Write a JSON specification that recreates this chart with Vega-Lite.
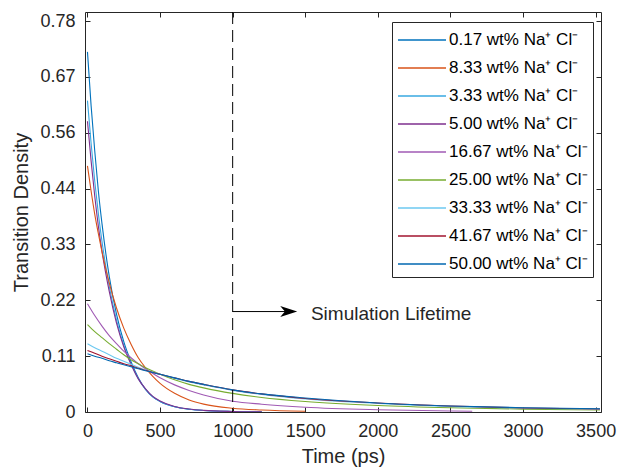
{
  "$schema": "https://vega.github.io/schema/vega-lite/v6.json",
  "width": 516,
  "height": 400,
  "autosize": {"type": "none"},
  "padding": {"left": 85, "top": 12, "right": 22, "bottom": 63},
  "background": "white",
  "config": {
    "view": {"stroke": null},
    "font": "Liberation Sans",
    "axis": {
      "grid": false,
      "domainColor": "#262626",
      "tickColor": "#262626",
      "labelColor": "#262626",
      "titleColor": "#262626",
      "labelFont": "Liberation Sans",
      "titleFont": "Liberation Sans",
      "labelFontSize": 18,
      "titleFontSize": 20,
      "titleFontWeight": "normal",
      "tickSize": -5,
      "labelPadding": 15,
      "labelFlush": false,
      "labelOverlap": false,
      "domainWidth": 1,
      "tickWidth": 1
    },
    "legend": {
      "orient": "none",
      "legendX": 307,
      "legendY": 10,
      "padding": 5,
      "strokeColor": "#262626",
      "fillColor": "white",
      "symbolType": "M -2 0 L 2 0",
      "symbolSize": 576,
      "symbolOffset": 12,
      "symbolStrokeWidth": 1.3,
      "symbolFillColor": "transparent",
      "labelFont": "Liberation Sans",
      "labelFontSize": 17,
      "labelColor": "#000000",
      "labelOffset": 14,
      "rowPadding": 7,
      "cornerRadius": 0
    }
  },
  "data": {
    "values": [
      {"c":"0.17","t":0,"v":0.717},{"c":"0.17","t":25,"v":0.61},{"c":"0.17","t":50,"v":0.52},{"c":"0.17","t":75,"v":0.44},{"c":"0.17","t":100,"v":0.375},{"c":"0.17","t":150,"v":0.27},{"c":"0.17","t":200,"v":0.195},{"c":"0.17","t":250,"v":0.14},{"c":"0.17","t":300,"v":0.1},{"c":"0.17","t":350,"v":0.068},{"c":"0.17","t":400,"v":0.045},{"c":"0.17","t":450,"v":0.03},{"c":"0.17","t":500,"v":0.021},{"c":"0.17","t":600,"v":0.0105},{"c":"0.17","t":700,"v":0.0055},{"c":"0.17","t":800,"v":0.003},{"c":"0.17","t":1000,"v":0.001},{"c":"0.17","t":1200,"v":0.0003},
      {"c":"3.33","t":0,"v":0.62},{"c":"3.33","t":25,"v":0.535},{"c":"3.33","t":50,"v":0.46},{"c":"3.33","t":75,"v":0.395},{"c":"3.33","t":100,"v":0.34},{"c":"3.33","t":150,"v":0.25},{"c":"3.33","t":200,"v":0.183},{"c":"3.33","t":250,"v":0.133},{"c":"3.33","t":300,"v":0.096},{"c":"3.33","t":350,"v":0.066},{"c":"3.33","t":400,"v":0.045},{"c":"3.33","t":450,"v":0.03},{"c":"3.33","t":500,"v":0.021},{"c":"3.33","t":600,"v":0.0105},{"c":"3.33","t":700,"v":0.0056},{"c":"3.33","t":800,"v":0.003},{"c":"3.33","t":1000,"v":0.001},{"c":"3.33","t":1200,"v":0.0003},
      {"c":"5.00","t":0,"v":0.579},{"c":"5.00","t":25,"v":0.5},{"c":"5.00","t":50,"v":0.43},{"c":"5.00","t":75,"v":0.37},{"c":"5.00","t":100,"v":0.32},{"c":"5.00","t":150,"v":0.24},{"c":"5.00","t":200,"v":0.177},{"c":"5.00","t":250,"v":0.13},{"c":"5.00","t":300,"v":0.095},{"c":"5.00","t":350,"v":0.066},{"c":"5.00","t":400,"v":0.046},{"c":"5.00","t":450,"v":0.031},{"c":"5.00","t":500,"v":0.022},{"c":"5.00","t":600,"v":0.011},{"c":"5.00","t":700,"v":0.006},{"c":"5.00","t":800,"v":0.0033},{"c":"5.00","t":1000,"v":0.0011},{"c":"5.00","t":1200,"v":0.0004},
      {"c":"8.33","t":0,"v":0.49},{"c":"8.33","t":25,"v":0.44},{"c":"8.33","t":50,"v":0.394},{"c":"8.33","t":75,"v":0.355},{"c":"8.33","t":100,"v":0.319},{"c":"8.33","t":150,"v":0.257},{"c":"8.33","t":200,"v":0.207},{"c":"8.33","t":250,"v":0.167},{"c":"8.33","t":300,"v":0.135},{"c":"8.33","t":350,"v":0.108},{"c":"8.33","t":400,"v":0.088},{"c":"8.33","t":450,"v":0.071},{"c":"8.33","t":500,"v":0.057},{"c":"8.33","t":600,"v":0.0372},{"c":"8.33","t":700,"v":0.024},{"c":"8.33","t":800,"v":0.0157},{"c":"8.33","t":1000,"v":0.0075},{"c":"8.33","t":1200,"v":0.004},{"c":"8.33","t":1500,"v":0.0015},
      {"c":"16.67","t":0,"v":0.2155},{"c":"16.67","t":50,"v":0.192},{"c":"16.67","t":100,"v":0.171},{"c":"16.67","t":150,"v":0.152},{"c":"16.67","t":200,"v":0.136},{"c":"16.67","t":250,"v":0.121},{"c":"16.67","t":300,"v":0.108},{"c":"16.67","t":350,"v":0.096},{"c":"16.67","t":400,"v":0.086},{"c":"16.67","t":500,"v":0.068},{"c":"16.67","t":600,"v":0.054},{"c":"16.67","t":700,"v":0.043},{"c":"16.67","t":800,"v":0.034},{"c":"16.67","t":1000,"v":0.0215},{"c":"16.67","t":1200,"v":0.0155},{"c":"16.67","t":1500,"v":0.0095},{"c":"16.67","t":2000,"v":0.0045},{"c":"16.67","t":2500,"v":0.002},{"c":"16.67","t":2650,"v":0.0015},
      {"c":"25.00","t":0,"v":0.174},{"c":"25.00","t":50,"v":0.16},{"c":"25.00","t":100,"v":0.148},{"c":"25.00","t":150,"v":0.136},{"c":"25.00","t":200,"v":0.125},{"c":"25.00","t":250,"v":0.114},{"c":"25.00","t":300,"v":0.104},{"c":"25.00","t":350,"v":0.096},{"c":"25.00","t":400,"v":0.088},{"c":"25.00","t":500,"v":0.075},{"c":"25.00","t":600,"v":0.064},{"c":"25.00","t":700,"v":0.055},{"c":"25.00","t":800,"v":0.048},{"c":"25.00","t":1000,"v":0.037},{"c":"25.00","t":1200,"v":0.029},{"c":"25.00","t":1500,"v":0.021},{"c":"25.00","t":2000,"v":0.013},{"c":"25.00","t":2500,"v":0.0085},{"c":"25.00","t":3000,"v":0.0058},{"c":"25.00","t":3530,"v":0.004},
      {"c":"33.33","t":0,"v":0.136},{"c":"33.33","t":50,"v":0.128},{"c":"33.33","t":100,"v":0.121},{"c":"33.33","t":150,"v":0.114},{"c":"33.33","t":200,"v":0.107},{"c":"33.33","t":250,"v":0.101},{"c":"33.33","t":300,"v":0.095},{"c":"33.33","t":350,"v":0.089},{"c":"33.33","t":400,"v":0.084},{"c":"33.33","t":500,"v":0.075},{"c":"33.33","t":600,"v":0.067},{"c":"33.33","t":700,"v":0.06},{"c":"33.33","t":800,"v":0.054},{"c":"33.33","t":1000,"v":0.043},{"c":"33.33","t":1200,"v":0.035},{"c":"33.33","t":1500,"v":0.026},{"c":"33.33","t":2000,"v":0.017},{"c":"33.33","t":2500,"v":0.011},{"c":"33.33","t":3000,"v":0.0078},{"c":"33.33","t":3530,"v":0.0058},
      {"c":"41.67","t":0,"v":0.1225},{"c":"41.67","t":50,"v":0.117},{"c":"41.67","t":100,"v":0.111},{"c":"41.67","t":150,"v":0.106},{"c":"41.67","t":200,"v":0.101},{"c":"41.67","t":250,"v":0.096},{"c":"41.67","t":300,"v":0.092},{"c":"41.67","t":350,"v":0.087},{"c":"41.67","t":400,"v":0.083},{"c":"41.67","t":500,"v":0.075},{"c":"41.67","t":600,"v":0.068},{"c":"41.67","t":700,"v":0.061},{"c":"41.67","t":800,"v":0.055},{"c":"41.67","t":1000,"v":0.044},{"c":"41.67","t":1200,"v":0.036},{"c":"41.67","t":1500,"v":0.027},{"c":"41.67","t":2000,"v":0.018},{"c":"41.67","t":2500,"v":0.012},{"c":"41.67","t":3000,"v":0.008},{"c":"41.67","t":3530,"v":0.006},
      {"c":"50.00","t":0,"v":0.116},{"c":"50.00","t":50,"v":0.111},{"c":"50.00","t":100,"v":0.107},{"c":"50.00","t":150,"v":0.102},{"c":"50.00","t":200,"v":0.098},{"c":"50.00","t":250,"v":0.094},{"c":"50.00","t":300,"v":0.09},{"c":"50.00","t":350,"v":0.086},{"c":"50.00","t":400,"v":0.082},{"c":"50.00","t":500,"v":0.075},{"c":"50.00","t":600,"v":0.068},{"c":"50.00","t":700,"v":0.061},{"c":"50.00","t":800,"v":0.055},{"c":"50.00","t":1000,"v":0.044},{"c":"50.00","t":1200,"v":0.036},{"c":"50.00","t":1500,"v":0.028},{"c":"50.00","t":2000,"v":0.018},{"c":"50.00","t":2500,"v":0.012},{"c":"50.00","t":3000,"v":0.0085},{"c":"50.00","t":3530,"v":0.0065}
    ]
  },
  "layer": [
    {
      "mark": {"type": "line", "strokeWidth": 1.1, "interpolate": "monotone", "clip": true},
      "encoding": {
        "x": {
          "field": "t", "type": "quantitative",
          "scale": {"domain": [-17, 3537], "nice": false, "zero": false},
          "axis": {"orient": "bottom", "values": [0,500,1000,1500,2000,2500,3000,3500], "format": "d", "title": "Time (ps)", "titlePadding": 6}
        },
        "y": {
          "field": "v", "type": "quantitative",
          "scale": {"domain": [0, 0.7964], "nice": false, "zero": false},
          "axis": {"orient": "left", "values": [0,0.1112,0.2224,0.3336,0.4448,0.556,0.6672,0.7784], "labelExpr": "datum.value == 0 ? '0' : format(datum.value, '.2f')", "title": "Transition Density", "titlePadding": 8}
        },
        "color": {
          "field": "c", "type": "nominal",
          "scale": {
            "domain": ["0.17","8.33","3.33","5.00","16.67","25.00","33.33","41.67","50.00"],
            "range": ["#0072BD","#D95319","#38A8E0","#7E2F8E","#A05AB4","#77AC30","#6CC8F0","#A2142F","#0067B0"]
          },
          "legend": {"title": null, "labelExpr": "datum.label + ' wt% Na⁺ Cl⁻'"}
        },
        "detail": {"field": "c"}
      }
    },
    {
      "data": {"values": [{}]},
      "mark": {"type": "rule", "strokeDash": [12, 6], "color": "#000000", "strokeWidth": 1},
      "encoding": {
        "x": {"datum": 1000, "type": "quantitative", "axis": {"orient": "top", "values": [0,500,1000,1500,2000,2500,3000,3500], "labels": false, "title": null}}
      }
    },
    {
      "data": {"values": [{}]},
      "mark": {"type": "rule", "color": "#000000", "strokeWidth": 1},
      "encoding": {
        "x": {"datum": 1000, "type": "quantitative", "axis": null},
        "x2": {"datum": 1390},
        "y": {"datum": 0.2, "type": "quantitative", "axis": {"orient": "right", "values": [0,0.1112,0.2224,0.3336,0.4448,0.556,0.6672,0.7784], "labels": false, "title": null}}
      }
    },
    {
      "data": {"values": [{}]},
      "mark": {"type": "point", "shape": "M 1 0 L -1 -0.65 L -0.45 0 L -1 0.65 Z", "size": 289, "filled": true, "color": "#000000", "opacity": 1},
      "encoding": {
        "x": {"datum": 1386, "type": "quantitative", "axis": null},
        "y": {"datum": 0.2, "type": "quantitative", "axis": null}
      }
    },
    {
      "data": {"values": [{}]},
      "mark": {"type": "text", "text": "Simulation Lifetime", "align": "left", "baseline": "middle", "fontSize": 19, "font": "Liberation Sans", "color": "#262626", "dy": 2},
      "encoding": {
        "x": {"datum": 1539, "type": "quantitative", "axis": null},
        "y": {"datum": 0.2, "type": "quantitative", "axis": null}
      }
    }
  ],
  "resolve": {"axis": {"x": "independent", "y": "independent"}}
}
